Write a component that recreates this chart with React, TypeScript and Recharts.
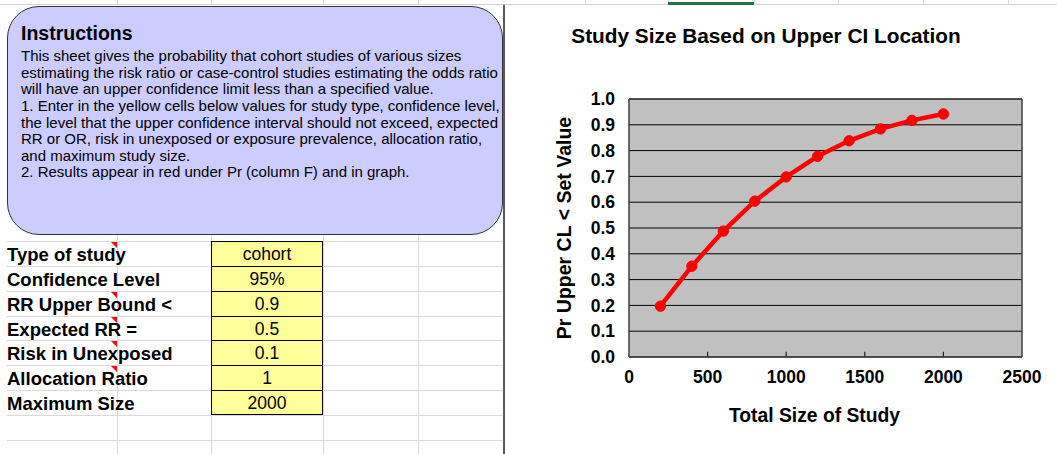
import React from 'react';
import { LineChart, Line, XAxis, YAxis, CartesianGrid, ReferenceLine } from 'recharts';

const studySizes = [200, 400, 600, 800, 1000, 1200, 1400, 1600, 1800, 2000];
const prValues = [0.197, 0.352, 0.488, 0.604, 0.698, 0.778, 0.838, 0.884, 0.917, 0.942];
const xTicks = [0, 500, 1000, 1500, 2000, 2500];
const innerTicks = [500, 1000, 1500, 2000];
const yTicks = [0, 0.1, 0.2, 0.3, 0.4, 0.5, 0.6, 0.7, 0.8, 0.9, 1.0];

const paramLabels = ['Type of study', 'Confidence Level', 'RR Upper Bound <', 'Expected RR =', 'Risk in Unexposed', 'Allocation Ratio', 'Maximum Size'];
const paramValues = ['cohort', '95%', '0.9', '0.5', '0.1', '1', '2000'];
const hasComment = [true, false, true, true, true, true, false];

const instructionLines = [
  'This sheet gives the probability that cohort studies of various sizes',
  'estimating the risk ratio or case-control studies estimating the odds ratio',
  'will have an upper confidence limit less than a specified value.',
  '1.  Enter in the yellow cells below values for study type, confidence level,',
  'the level that the upper confidence interval should not exceed, expected',
  'RR or OR, risk in unexposed or exposure prevalence, allocation ratio,',
  'and maximum study size.',
  '2.  Results appear in red under Pr (column F) and in graph.',
];

const data = studySizes.map((s, i) => ({ size: s, pr: prValues[i] }));

const FONT = '"Liberation Sans", Arial, sans-serif';
const ROW_TOP = 241;
const ROW_H = 24.86;
const colLines = [117, 211, 323, 418];
const topColTicks = [117, 211, 323, 418, 585, 668, 754, 838, 923, 1008];

export default function App() {
  const rowY = (i: number) => Math.round(ROW_TOP + i * ROW_H);
  return (
    <div style={{ position: 'absolute', left: 0, top: 0, width: 1057, height: 454, overflow: 'hidden', background: '#fff', fontFamily: FONT }}>
      {/* top header line */}
      <div style={{ position: 'absolute', left: 0, top: 4, width: 1057, height: 1, background: '#d0d0d0' }} />
      {topColTicks.map((x) => (
        <div key={'t' + x} style={{ position: 'absolute', left: x, top: 0, width: 1, height: 5, background: '#dcdcdc' }} />
      ))}
      <div style={{ position: 'absolute', left: 668, top: 2, width: 86, height: 3, background: '#217346' }} />

      {/* grid lines of the sheet */}
      {Array.from({ length: 9 }).map((_, i) => (
        <div key={'h' + i} style={{ position: 'absolute', left: 7, top: rowY(i), width: 497, height: 1, background: '#dadada' }} />
      ))}
      {colLines.map((x) => (
        <div key={'v' + x} style={{ position: 'absolute', left: x, top: 235, width: 1, height: 219, background: '#dadada' }} />
      ))}

      {/* yellow input cells */}
      {paramValues.map((v, i) => (
        <div key={'c' + i} style={{ position: 'absolute', left: 211, top: rowY(i), width: 112, height: rowY(i + 1) - rowY(i), background: '#FFFF99', borderTop: '1px solid #000', borderLeft: '1px solid #000', borderRight: '1px solid #000', borderBottom: i === 6 ? '1px solid #000' : 'none', boxSizing: 'border-box' }} />
      ))}
      {paramValues.map((v, i) => (
        <div key={'cv' + i} style={{ position: 'absolute', left: 211, top: rowY(i) + 1, width: 112, height: 25, lineHeight: '25px', fontSize: 17.5, textAlign: 'center', color: '#000', whiteSpace: 'nowrap' }}>{v}</div>
      ))}
      {paramLabels.map((l, i) => (
        <div key={'l' + i} style={{ position: 'absolute', left: 7, top: rowY(i) + 1, height: 25, lineHeight: '25px', fontSize: 18.5, fontWeight: 'bold', color: '#000', whiteSpace: 'pre' }}>{l}</div>
      ))}
      {hasComment.map((c, i) => c ? (
        <div key={'r' + i} style={{ position: 'absolute', left: 111, top: rowY(i) + 1, width: 0, height: 0, borderTop: '6px solid #ff0000', borderLeft: '6px solid transparent' }} />
      ) : null)}

      {/* instructions box */}
      <div style={{ position: 'absolute', left: 7, top: 6, width: 496, height: 229, background: '#CCCCFF', border: '1.5px solid #333', borderRadius: 32, boxSizing: 'border-box' }} />
      <div style={{ position: 'absolute', left: 21, top: 22.5, fontSize: 19.5, lineHeight: '20px', fontWeight: 'bold', color: '#000', whiteSpace: 'nowrap' }}>Instructions</div>
      {instructionLines.map((t, i) => (
        <div key={'i' + i} style={{ position: 'absolute', left: 21, top: 48.2 + i * 16.6, fontSize: 15, lineHeight: '16.6px', color: '#000', whiteSpace: 'nowrap' }}>{t}</div>
      ))}

      {/* chart area */}
      <div style={{ position: 'absolute', left: 505, top: 5, width: 552, height: 449, background: '#fff' }} />
      <div style={{ position: 'absolute', left: 503, top: 5, width: 2, height: 449, background: '#5a5a5a' }} />
      <div style={{ position: 'absolute', left: 466, top: 25.5, width: 600, textAlign: 'center', fontSize: 20.8, lineHeight: '20px', fontWeight: 'bold', color: '#000', whiteSpace: 'nowrap' }}>Study Size Based on Upper CI Location</div>
      <div style={{ position: 'absolute', left: 505, top: 0 }}>
        <LineChart width={552} height={454} data={data} margin={{ top: 99, right: 35, bottom: 67, left: 0 }}>
          <CartesianGrid vertical={false} horizontal={true} fill="#C0C0C0" fillOpacity={1} stroke="#000" strokeWidth={1} />
          <XAxis
            type="number"
            dataKey="size"
            domain={[0, 2500]}
            ticks={xTicks}
            interval={0}
            height={30}
            axisLine={{ stroke: '#404040', strokeWidth: 1.5 }}
            tickLine={false}
            tickSize={6}
            tickMargin={8}
            tick={{ fill: '#000', fontSize: 17.5, fontWeight: 'bold', fontFamily: FONT }}
            label={{ value: 'Total Size of Study', position: 'bottom', offset: 21, dx: -11, fill: '#000', fontSize: 19.3, fontWeight: 'bold', fontFamily: FONT }}
          />
          <YAxis
            type="number"
            domain={[0, 1]}
            ticks={yTicks}
            interval={0}
            width={124}
            axisLine={{ stroke: '#404040', strokeWidth: 1.5 }}
            tickLine={false}
            tickSize={6}
            tickMargin={8}
            tickFormatter={(v: number) => v.toFixed(1)}
            tick={{ fill: '#000', fontSize: 17.5, fontWeight: 'bold', fontFamily: FONT }}
            label={{ value: 'Pr Upper CL < Set Value', angle: -90, position: 'center', dx: -3, fill: '#000', fontSize: 19.5, fontWeight: 'bold', fontFamily: FONT }}
          />
          <ReferenceLine x={2500} stroke="#404040" strokeWidth={1.5} />
          <ReferenceLine y={1} stroke="#404040" strokeWidth={1.5} />
          {innerTicks.map((t) => (
            <ReferenceLine key={t} segment={[{ x: t, y: 0 }, { x: t, y: 0.02 }]} stroke="#202020" strokeWidth={1.2} />
          ))}
          <Line type="linear" dataKey="pr" stroke="#FF0000" strokeWidth={4.5} dot={{ r: 5.2, fill: '#FF0000', stroke: '#FF0000', strokeWidth: 1 }} isAnimationActive={false} />
        </LineChart>
      </div>
    </div>
  );
}
